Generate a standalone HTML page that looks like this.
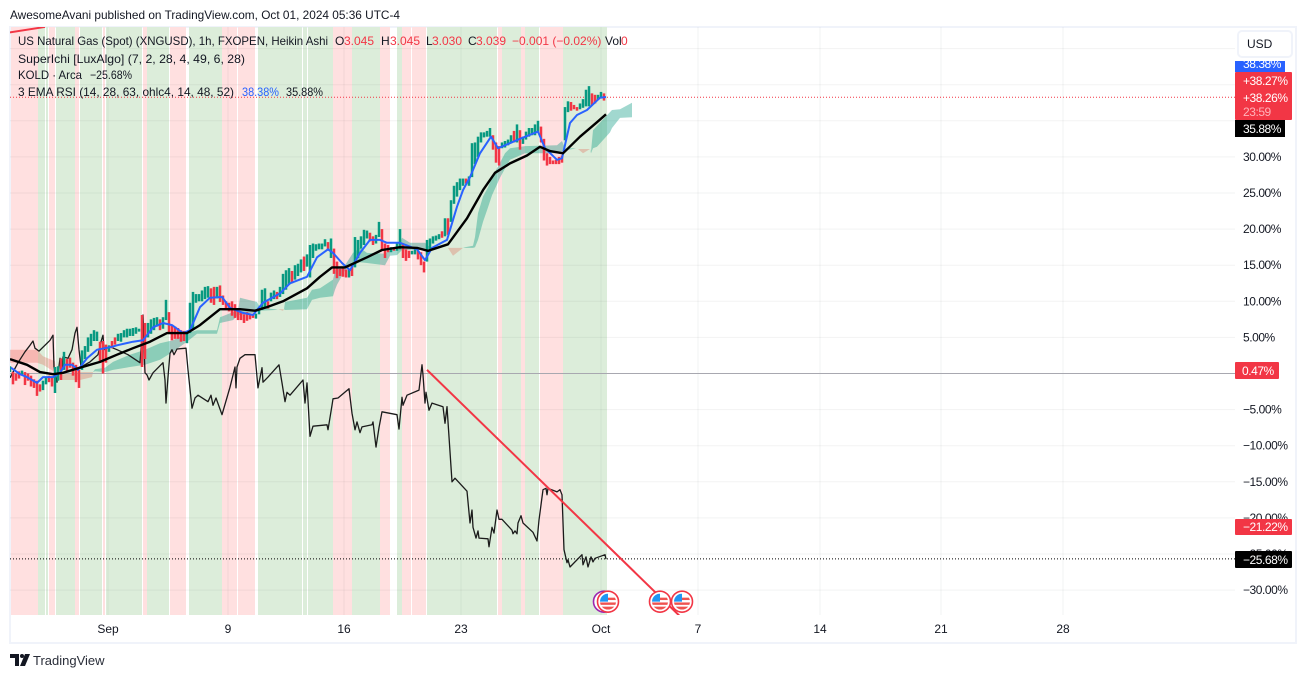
<!DOCTYPE html>
<html lang="en">
<head>
<meta charset="utf-8">
<title>US Natural Gas vs KOLD chart</title>
<style>
html,body{margin:0;padding:0;background:#fff;width:1306px;height:678px;overflow:hidden}
svg{display:block}
text{font-family:"Liberation Sans",sans-serif;font-size:12px;fill:#131722}
.tick{letter-spacing:-0.45px}
</style>
</head>
<body>
<svg id="chart" xmlns="http://www.w3.org/2000/svg" width="1306" height="678" viewBox="0 0 1306 678">
  <defs>
    <clipPath id="pane-clip"><rect x="10" y="27" width="1225" height="588"/></clipPath>
    <clipPath id="flag-clip"><circle cx="0" cy="0" r="8"/></clipPath>
  </defs>
  <text x="10" y="19" textLength="390" lengthAdjust="spacingAndGlyphs">AwesomeAvani published on TradingView.com, Oct 01, 2024 05:36 UTC-4</text>
  <rect x="10" y="27" width="1286" height="616" fill="none" stroke="#f0f3fa" stroke-width="2"/>
  <g id="pane" clip-path="url(#pane-clip)">
    <g id="bands"></g>
    <g id="grid"></g>
    <g id="cloud"></g>
    <g id="refs"></g>
    <g id="kold"></g>
    <g id="candles"></g>
    <g id="emas"></g>
    <g id="trend"></g>
    <g id="events"></g>
  </g>
  <g id="price-axis"></g>
  <g id="time-axis"></g>
  <g>
    <g>
      <rect x="1235" y="61" width="50" height="11" fill="#2962ff"/>
      <text class="tick" x="1243" y="68" style="fill:#fff">38.38%</text>
    </g>
    <g>
      <rect x="1235" y="72" width="57" height="48" rx="1" fill="#f23645"/>
      <text class="tick" x="1243" y="85" style="fill:#fff">+38.27%</text>
      <text class="tick" x="1243" y="102" style="fill:#fff">+38.26%</text>
      <text class="tick" x="1243" y="116" style="fill:#ffb3ba">23:59</text>
    </g>
    <g>
      <rect x="1235" y="120" width="50" height="17" fill="#000"/>
      <text class="tick" x="1243" y="133" style="fill:#fff">35.88%</text>
    </g>
    <g>
      <rect x="1235" y="362" width="44" height="17" rx="1" fill="#f23645"/>
      <text class="tick" x="1242" y="375" style="fill:#fff">0.47%</text>
    </g>
    <g>
      <rect x="1235" y="519" width="57" height="16" rx="1" fill="#f23645"/>
      <text class="tick" x="1243" y="531" style="fill:#fff">−21.22%</text>
    </g>
    <g>
      <rect x="1235" y="551" width="57" height="17" rx="1" fill="#000"/>
      <text class="tick" x="1243" y="564" style="fill:#fff">−25.68%</text>
    </g>
  </g>
  <g>
    <rect x="1238" y="31" width="54" height="26" rx="4" fill="#fff" stroke="#f0f3fa" stroke-width="2"/>
    <text x="1247" y="48">USD</text>
  </g>
  <g>
    <text x="18" y="45" textLength="310" lengthAdjust="spacingAndGlyphs">US Natural Gas (Spot) (XNGUSD), 1h, FXOPEN, Heikin Ashi</text>
    <g>
      <text x="335" y="45">O</text><text x="344" y="45" style="fill:#f23645">3.045</text>
      <text x="381" y="45">H</text><text x="390" y="45" style="fill:#f23645">3.045</text>
      <text x="426" y="45">L</text><text x="432" y="45" style="fill:#f23645">3.030</text>
      <text x="468" y="45">C</text><text x="476" y="45" style="fill:#f23645">3.039</text>
      <text x="512" y="45" style="fill:#f23645">−0.001 (−0.02%)</text>
      <text x="605" y="45">Vol</text><text x="621" y="45" style="fill:#f23645">0</text>
    </g>
    <text x="18" y="63" textLength="227" lengthAdjust="spacingAndGlyphs">SuperIchi [LuxAlgo] (7, 2, 28, 4, 49, 6, 28)</text>
    <text x="18" y="79" textLength="64" lengthAdjust="spacingAndGlyphs">KOLD · Arca</text>
    <text x="90" y="79" textLength="42" lengthAdjust="spacingAndGlyphs">−25.68%</text>
    <text x="18" y="96" textLength="216" lengthAdjust="spacingAndGlyphs">3 EMA RSI (14, 28, 63, ohlc4, 14, 48, 52)</text>
    <text x="242" y="96" textLength="37" lengthAdjust="spacingAndGlyphs" style="fill:#2962ff">38.38%</text>
    <text x="286" y="96" textLength="37" lengthAdjust="spacingAndGlyphs">35.88%</text>
  </g>
  <g>
    <path d="M10 654h9v12h-4v-8h-5z" fill="#131722"/>
    <circle cx="22" cy="656" r="2" fill="#131722"/>
    <polygon points="25,654 30,654 25,666 20,666" fill="#131722"/>
    <text x="33" y="665" style="font-size:13px;fill:#2a2e39">TradingView</text>
  </g>
</svg>
<script>
// ---- axis data ----
const gridValues = [45,40,35,30,25,20,15,10,5,0,-5,-10,-15,-20,-25,-30];
const priceTickValues = [30,25,20,15,10,5,-5,-10,-15,-20,-25,-30];
const priceTickLabels = ['30.00%','25.00%','20.00%','15.00%','10.00%','5.00%','−5.00%','−10.00%','−15.00%','−20.00%','−25.00%','−30.00%'];
const timeTickBars = [98,218,334,451,591,688,810,931,1053];
const timeTickLabels = ['Sep','9','16','23','Oct','7','14','21','28'];
const baselineValue = 0;
const lastPriceValue = 38.26;
const koldLastValue = -25.68;

// ---- session background state ----
const bandFrom = [1,28,36,39,46,65,70,93,96,98,133,137,160,179,212,228,248,293,298,323,342,370,387,392,402,417,488,492,511,515,530,553];
const bandTo   = [28,35,38,45,65,69,92,95,98,132,137,159,176,212,227,245,292,297,323,342,370,380,392,401,416,487,492,511,515,529,553,597];
const bandKind = ['r','g','g','r','g','r','g','r','g','g','r','g','r','g','r','r','g','g','g','r','g','r','g','r','r','g','r','g','r','g','r','g'];

// ---- Heikin Ashi candles, one entry per 3 bars ----
const candleHigh = [1,0.2,0,0.3,0.4,0.2,0,-0.3,-0.8,-1,
-1.5,-1,-0.5,-0.3,-0.5,0.9,1,2.1,3,2,
2.2,1.5,1.2,0.5,3.2,3.8,5,5.5,6,5.8,
4.4,4.5,4,3.9,4.5,5,5.5,5.6,6,6.2,
6.2,6.3,6.4,6.2,8.1,7,7,7.5,7.7,7.8,
7.5,7.8,10.2,8.5,6.7,6.5,6.3,6,5.9,5.5,
9.8,11.3,11,11,11.5,12,12.1,11.8,12,12,
12.2,10.8,10,9.8,10,9.6,9,8.5,8.2,8.5,
8.3,8.3,8.3,9,11.6,11.8,10,11.2,11.5,11.3,
12,13.8,14.3,14.6,14.2,15,15.2,15.8,16.2,16.5,
17.8,18,17.9,18,18,18.6,18.2,18.7,17.3,15.5,
14.5,14.6,14.4,14.5,15,18.9,18.5,19,19.9,19.8,
19.5,19,19.2,21,20,18,17.8,17.5,17.5,18,
20,18,17.2,17,17,17.2,17,16.8,15.5,18.5,
18.7,19,19.1,19.3,19.7,21.5,21.5,24,26,26.5,
27,27,27,27.3,31.9,32,32.8,33.4,33.4,33.6,
34,33,32,31.5,32,32.2,32.4,33,33.6,34.5,
33.7,32.8,33.5,34,34,34.5,35,34.2,32.5,30.5,
30,29.5,29.6,30,30.2,36.9,37.7,37.6,37.2,36.9,
37.4,38,39.3,39.8,38.8,38.6,38.6,39,38.8];
const candleLow = [0.2,-1.5,-1,-0.7,-0.2,-1.6,-1,-1.8,-2,-3.1,
-2.5,-2.3,-1.5,-1.2,-1.8,-2.7,-1,-0.9,0.5,0.3,
0.8,-0.3,-1.2,-2,0.5,2,3,3.8,4.5,4.5,
1.5,0,1.5,3,3.5,4,4.5,4.4,5,5,
5.2,5.2,5.5,5.8,0.9,2,5,5.5,6,6.5,
6,6.2,7.4,5.5,4.6,4.8,4.8,4.4,4.5,4.2,
5.6,6,9.8,10,10,10.3,10.5,9.8,9.5,10.4,
9.9,9.5,8.8,8.6,8,7.7,7.4,7.4,7,7.3,
7.5,7.7,7.6,8.2,8.8,9.2,9,10,10.3,10.3,
10.6,11,11.6,12.3,12.5,13,13.5,14,14.2,14.8,
13.3,16,17,17.2,17.2,17.6,17,16,13.8,13.2,
13.5,13.4,13.3,13.3,13.5,14.7,16,17.3,17.8,18.7,
18.3,17.8,18,18.9,17.2,16,16.8,16.8,17,17,
17.2,16,15.6,16,16.5,16.5,15.8,15,14,15.5,
17,18,18.4,18.6,18.8,19,19.2,21,23.5,24.5,
25.4,26,26.3,26,27.2,29,30,32,32.7,32.8,
32.8,31,29.2,28.8,31.2,31.3,31.6,32,32,32,
31,31.8,32.4,32.8,33,33,33.4,32,29.5,28.8,
29,29,29,29,29.2,32.3,36.2,36.4,36.6,36.4,
36.6,36.8,37,37,37.2,37.4,37.9,38.2,37.8];
const candleUp = [1,0,0,0,1,0,0,0,0,0,
0,1,1,0,0,1,1,0,1,0,
0,0,0,0,1,1,1,1,1,1,
0,0,0,1,0,0,1,1,1,1,
1,1,1,1,0,0,1,1,1,1,
0,1,1,0,0,0,0,0,0,1,
1,1,1,1,1,1,1,0,0,1,
0,0,0,0,0,0,0,0,0,0,
0,0,1,1,1,1,0,1,1,0,
1,1,1,1,0,1,1,1,0,1,
1,1,1,1,1,1,0,1,0,0,
0,0,0,1,0,1,1,1,1,1,
0,0,1,1,0,0,0,1,0,1,
1,0,0,0,1,1,0,0,0,1,
1,1,1,1,0,1,0,1,1,1,
1,1,0,1,1,1,1,1,1,1,
1,0,0,0,1,1,1,1,0,1,
0,1,1,1,1,1,1,0,0,0,
0,0,0,0,0,1,1,0,0,0,
1,1,1,1,0,0,1,1,0];

// ---- 3 EMA RSI lines ----
const fastBars = [1,10,17,27,33,43,50,55,62,68,77,87,102,107,123,133,143,153,162,173,180,190,200,212,220,233,243,253,270,280,297,307,318,323,332,340,350,360,370,377,390,407,415,422,437,447,453,460,470,481,488,495,510,528,535,547,552,560,567,577,590,596];
const fastValues = [0.8,-0.1,-0.5,-1.3,-0.5,-0.5,0.1,1.2,1.2,0.5,2.1,3.3,3.7,3.9,4.4,4.6,6.4,7,6.7,5.6,6,9.2,10.5,10.6,9.1,8.4,8.1,9.8,11.1,12.5,13.4,16.1,17.2,16.7,15.3,14.3,16.7,18.5,18.5,18.1,18.1,17.2,15.7,17.4,18.5,23.1,25.4,27.2,30.5,32.8,31.2,31.6,32.5,33.5,31.2,29.6,29.8,34.7,35.8,36.5,38.2,38.3];
const slowBars = [0,17,30,43,53,70,90,107,123,140,157,177,190,210,230,245,257,273,297,310,322,335,357,372,390,407,418,438,457,473,485,500,517,530,540,553,570,587,596];
const slowValues = [2,1.2,0.2,-0.1,0.1,0.8,1.6,2.6,3.5,4.4,5.6,5.6,6.7,8.9,8.9,8.7,9.2,10,11.8,13.4,14.7,14.7,16.1,17.1,17.5,17.4,17,17.9,21.5,25.4,27.8,29.1,30.2,31.4,30.8,30.5,32.8,34.8,35.9];

// ---- KOLD comparison series ----
const koldBars = [0,8,15,20,23,25,29,40,43,44,47,50,52,53,58,62,65,67,69,71,80,88,91,93,94,100,107,118,130,132,133,134,135,137,139,143,153,155,156,158,160,162,164,167,176,178,182,185,188,198,201,203,206,212,220,225,226,227,230,235,245,248,252,253,258,269,272,275,277,280,293,295,297,300,303,317,318,322,323,328,339,342,345,347,350,352,362,363,366,369,372,387,389,392,393,397,409,412,413,415,416,419,422,433,435,437,442,445,457,460,462,463,466,468,469,478,479,482,484,487,489,492,502,503,505,507,508,511,513,523,527,529,533,536,537,538,547,550,552,554,557,558,560,572,573,576,578,581,583,585,595,596];
const koldValues = [-0.6,1.5,3,3.9,4.5,3.5,3.1,4.6,5.3,0.9,-1.2,2.1,0.5,2.3,2.1,3.3,5.6,6.4,3.3,0.9,1.6,2.6,4.4,5.3,3.3,3.7,3.3,2.6,1.5,5.1,8.1,3.7,0.1,-0.2,-0.9,0.1,1.5,-0.9,-4.1,-0.5,2.8,3.3,2.6,3.4,3.5,0.5,-4.8,-3.4,-3,-3.9,-3,-4.4,-3.4,-5.7,-1.9,0.9,-2,0.9,2.1,2.6,2.6,-2,0.8,-1.2,-0.5,1.2,-1.3,-3.9,-2.6,-3,-0.9,-4.1,-1.3,-8.7,-7.3,-7.1,-7.8,-4.4,-3.5,-3.4,-2.1,-5.5,-7.8,-6.7,-8.2,-7.4,-7.1,-6.7,-10.2,-7.5,-5.3,-5.7,-7.7,-3.3,-4.4,-3,-2.3,1.2,-0.2,-4.1,-2.6,-5.1,-4.1,-4.6,-6.9,-4.6,-15,-14.5,-16.3,-20.7,-18.9,-21.3,-22.8,-21.8,-22.8,-22.9,-24,-21.3,-22.1,-18.9,-20.2,-20.2,-21.7,-22.2,-21.8,-22.2,-20.7,-19.7,-20.7,-22,-23.2,-20.3,-16.1,-15.9,-16.8,-15.9,-16.4,-16.1,-16.8,-24.4,-26.2,-25.8,-26.8,-25.1,-26.5,-25.4,-26.8,-25.4,-26.1,-25.6,-25.1,-25.7];

// ---- SuperIchi cloud spans ----
const cloudBars = [0,27,33,45,46,48,50,70,82,83,85,95,103,120,135,150,163,177,187,207,210,223,228,230,247,250,265,268,273,274,275,297,302,310,323,325,327,335,343,350,357,375,380,387,392,400,415,418,422,438,443,453,455,463,465,468,473,478,482,490,495,500,515,547,552,555,563,566,568,573,580,581,583,587,600,602,610,622];
const spanA = [1.5,1.5,1.2,0.2,0.2,-0.5,-0.9,-0.9,-0.5,0.2,0.6,0.8,1.6,2.6,3.3,4.2,4.6,5.6,6,6,7.8,8.5,8.7,10.5,9.9,9.1,8.9,8.9,8.7,8.9,9.9,10.5,11.6,11.8,13,14.3,14.8,15,16.7,17.4,16.7,16.6,17.1,17.1,18.8,18.1,18.1,17.7,17.4,17.4,16.3,17.4,17.5,17.7,18.9,22.2,24.5,25.8,27.2,29.2,30.5,31.2,31.5,31.6,32.2,31.2,31.2,31.1,31.1,30.5,31.1,30.7,33.7,34.3,36.2,36.5,36.6,37.5];
const spanB = [3.3,3.3,2.4,1.7,0.2,-0.5,-0.2,0.2,0.2,0.2,0.3,0.2,0.5,0.9,1.2,1.9,3,4.4,5.5,5.5,7,7.4,8.1,8.1,8.5,8.7,8.8,8.9,8.9,8.9,8.8,8.9,10.2,10.5,10.7,11.6,12.3,14.3,15,15.4,15.3,15,16.3,16.4,17.1,17.1,17.1,17.2,17.4,17.4,17.4,17.4,17.4,17.4,17.5,18.5,21,23,24.7,27.1,28.4,29.6,30.5,30.5,30.7,30.9,31.1,31.1,31.1,31.1,31.1,30.5,31.2,31.4,33.4,34,35.4,35.5];

// ---- red trend lines (start/end bar and value) ----
const trendBarStart = [417,-2];
const trendBarEnd = [672,35];
const trendValueStart = [0.5,47.2];
const trendValueEnd = [-33.9,48.0];

// ---- economic events ----
const eventBars = [597,649,671];
const eventLevel = -31.6;

// ---- axis functions ----
const xOf = b => 10 + b;
const yOf = p => 373.5 - 7.22 * p;
const NS = 'http://www.w3.org/2000/svg';
const mk = (parent, tag) => { const el = document.createElementNS(NS, tag); parent.appendChild(el); return el; };
const byId = id => document.getElementById(id);
const setAll = (el, props) => { for (const k in props) el.setAttribute(k, props[k]); return el; };
const pathOf = (bars, vals) => bars.map((b, i) => (i ? 'L' : 'M') + xOf(b).toFixed(1) + ' ' + yOf(vals[i]).toFixed(1)).join('');

// bands
const kindFill = { r: '#ffe0e0', g: '#dcedda' };
const bandGroup = byId('bands');
bandFrom.forEach((from, i) => {
  const el = mk(bandGroup, 'rect');
  
  
  setAll(el, { x: xOf(from), y: 27, width: bandTo[i] - from, height: 588, fill: kindFill[bandKind[i]] });
});

// grid
const gridGroup = byId('grid');
gridValues.forEach(v => {
  const el = mk(gridGroup, 'line');
  
  
  setAll(el, { x1: 10, x2: 1235, y1: yOf(v), y2: yOf(v), stroke: 'rgba(42,46,57,0.06)', 'stroke-width': 1 });
});
timeTickBars.forEach(b => {
  const el = mk(gridGroup, 'line');
  
  
  setAll(el, { x1: xOf(b), x2: xOf(b), y1: 27, y2: 615, stroke: 'rgba(42,46,57,0.06)', 'stroke-width': 1 });
});

// cloud: consecutive runs with the same sign become one polygon
const cloudGroup = byId('cloud');
let run = [];
const flushRun = () => {
  if (run.length > 1) {
    const up = run.some(i => spanA[i] > spanB[i]);
    const top = run.map(i => xOf(cloudBars[i]) + ',' + yOf(spanA[i]).toFixed(1));
    const bottom = run.slice().reverse().map(i => xOf(cloudBars[i]) + ',' + yOf(spanB[i]).toFixed(1));
    const el = mk(cloudGroup, 'polygon');
    
    
    setAll(el, { points: top.concat(bottom).join(' '), fill: up ? 'rgba(8,153,129,0.38)' : 'rgba(226,80,60,0.28)' });
  }
};
let lastSign = 0;
cloudBars.forEach((b, i) => {
  const sign = Math.sign(spanA[i] - spanB[i]);
  if (sign !== 0 && lastSign !== 0 && sign !== lastSign) { flushRun(); run = []; }
  run.push(i);
  if (sign !== 0) lastSign = sign;
  else { flushRun(); run = [i]; lastSign = 0; }
});
flushRun();

// reference lines
const refs = byId('refs');
const baseLine = mk(refs, 'line');


setAll(baseLine, { x1: 10, x2: 1235, y1: yOf(baselineValue), y2: yOf(baselineValue), stroke: '#a8a8b0', 'stroke-width': 1 });
const lastLine = mk(refs, 'line');


setAll(lastLine, { x1: 10, x2: 1235, y1: yOf(lastPriceValue), y2: yOf(lastPriceValue), stroke: '#f23645', 'stroke-width': 1, 'stroke-dasharray': '1 2' });
const koldLine = mk(refs, 'line');


setAll(koldLine, { x1: 10, x2: 1235, y1: yOf(koldLastValue), y2: yOf(koldLastValue), stroke: '#000', 'stroke-width': 1, 'stroke-dasharray': '1 2' });

// KOLD
const koldPath = mk(byId('kold'), 'path');


setAll(koldPath, { d: pathOf(koldBars, koldValues), fill: 'none', stroke: '#1b1b1b', 'stroke-width': 1.3, 'stroke-linejoin': 'round' });

// candles
const candleGroup = byId('candles');
candleHigh.forEach((h, i) => {
  const el = mk(candleGroup, 'rect');
  
  
  setAll(el, { x: xOf(i * 3) - 1.25, y: yOf(h), width: 2.5, height: Math.max(1, yOf(candleLow[i]) - yOf(h)), fill: candleUp[i] ? '#089981' : '#f23645' });
});

// EMAs
const emaGroup = byId('emas');
const fastPath = mk(emaGroup, 'path');


setAll(fastPath, { d: pathOf(fastBars, fastValues), fill: 'none', stroke: '#2962ff', 'stroke-width': 2, 'stroke-linejoin': 'round' });
const slowPath = mk(emaGroup, 'path');


setAll(slowPath, { d: pathOf(slowBars, slowValues), fill: 'none', stroke: '#000', 'stroke-width': 2.4, 'stroke-linejoin': 'round' });

// trend lines
const trendGroup = byId('trend');
trendBarStart.forEach((b, i) => {
  const el = mk(trendGroup, 'line');
  
  
  setAll(el, { x1: xOf(b), y1: yOf(trendValueStart[i]), x2: xOf(trendBarEnd[i]), y2: yOf(trendValueEnd[i]), stroke: '#f23645', 'stroke-width': 2 });
});

// events
const eventGroup = byId('events');
const purple = mk(eventGroup, 'circle');


setAll(purple, { cx: xOf(eventBars[0]) - 3, cy: yOf(eventLevel), r: 10.5, fill: '#fff', stroke: '#9c27b0', 'stroke-width': 1.6 });
eventBars.forEach(b => {
  const g = mk(eventGroup, 'g');
  
  
  g.setAttribute('transform', 'translate(' + (xOf(b) + 1) + ' ' + yOf(eventLevel) + ')');
  const ring = mk(g, 'circle');
  
  
  setAll(ring, { r: 10.5, fill: '#fff', stroke: '#f23645', 'stroke-width': 1.6 });
  const flag = mk(g, 'g');
  
  
  flag.setAttribute('clip-path', 'url(#flag-clip)');
  const stripeBack = mk(flag, 'rect');
  setAll(stripeBack, { x: -8, y: -8, width: 16, height: 16, fill: '#fff' });
  const stripe1 = mk(flag, 'rect');
  setAll(stripe1, { x: 0, y: -4, width: 8, height: 2.4, fill: '#ef5350' });
  const stripe2 = mk(flag, 'rect');
  setAll(stripe2, { x: -8, y: 0.8, width: 16, height: 2.4, fill: '#ef5350' });
  const stripe3 = mk(flag, 'rect');
  setAll(stripe3, { x: -8, y: 5, width: 16, height: 3, fill: '#ef5350' });
  const canton = mk(flag, 'rect');
  setAll(canton, { x: -8, y: -8, width: 8, height: 8, fill: '#2196f3' });
});

// price axis
const priceAxis = byId('price-axis');
priceTickValues.forEach((v, i) => {
  const el = mk(priceAxis, 'text');
  
  
  setAll(el, { x: 1243, y: yOf(v) + 4, class: 'tick' });
  el.textContent = priceTickLabels[i];
});

// time axis
const timeAxis = byId('time-axis');
timeTickBars.forEach((b, i) => {
  const el = mk(timeAxis, 'text');
  
  
  setAll(el, { x: xOf(b), y: 633, 'text-anchor': 'middle' });
  el.textContent = timeTickLabels[i];
});
</script>
</body>
</html>
